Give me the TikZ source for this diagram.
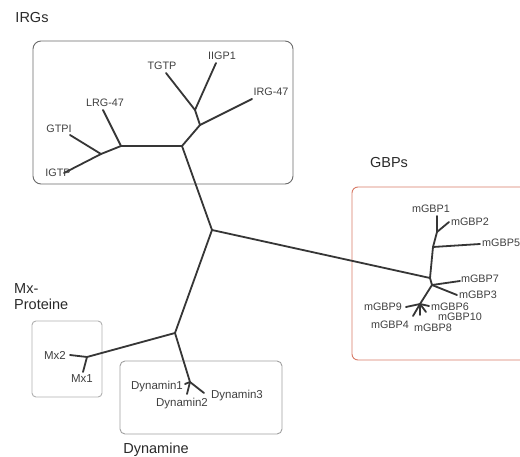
\documentclass[tikz,border=0pt]{standalone}
\usepackage{fontspec}
\setmainfont{Liberation Sans}
\definecolor{branchcol}{HTML}{363636}
\definecolor{txtcol}{HTML}{404040}
\definecolor{ttlcol}{HTML}{2A2A2A}
\definecolor{irgbox}{HTML}{6A6A6A}
\definecolor{gbpbox}{HTML}{D87A66}
\definecolor{mxbox}{HTML}{B0B0B0}
\definecolor{dynbox}{HTML}{A0A0A0}
\tikzset{
  branch/.style={draw=branchcol, line width=1.8pt, line cap=round, line join=round},
  grpbox/.style={line width=0.9pt},
  lbl/.style={inner sep=0pt, text=txtcol, font=\fontsize{10.8}{12}\selectfont},
  biglbl/.style={inner sep=0pt, text=txtcol, font=\fontsize{11.5}{13}\selectfont},
  ttl/.style={inner sep=0pt, text=ttlcol, font=\fontsize{14.5}{17}\selectfont},
}
\begin{document}
\begin{tikzpicture}[x=1pt,y=-1pt]
\clip (0,0) rectangle (520,457);
\fill[white] (0,0) rectangle (520,457);
% boxes
\draw[grpbox, draw=irgbox, rounded corners=8pt] (33,41) rectangle (293,184);
\draw[grpbox, draw=gbpbox, rounded corners=6pt] (352,187) rectangle (540,360);
\draw[grpbox, draw=mxbox, rounded corners=4pt] (32,321) rectangle (102,397);
\draw[grpbox, draw=dynbox, rounded corners=5pt] (120,361) rectangle (282,434);
% titles
\node[ttl] (tIRG) at (32,18) {IRGs};
\node[ttl] (tGBP) at (389,163) {GBPs};
\node[ttl, anchor=west, align=left] (tMx) at (14,297) {Mx-\\[-1pt]Proteine};
\node[ttl] (tDyn) at (156,450) {Dynamine};
% tree coordinates
\coordinate (r) at (212,230);
\coordinate (c1) at (182,146);
\coordinate (a) at (200,125);
\coordinate (b) at (195,110);
\coordinate (eTGTP) at (166,73);
\coordinate (eIIGP) at (216,63);
\coordinate (eIRG) at (252,99);
\coordinate (d) at (121,146);
\coordinate (eLRG) at (103,110);
\coordinate (e) at (101,154);
\coordinate (eGTPI) at (70,135);
\coordinate (eIGTP) at (64,173);
\coordinate (m) at (175,333);
\coordinate (g) at (430,278);
\coordinate (g5) at (433,247);
\coordinate (g2) at (437,232);
\coordinate (eG1) at (437,216);
\coordinate (eG2) at (449,222);
\coordinate (eG5) at (480,244);
\coordinate (g73) at (432,285);
\coordinate (eG7) at (460,281);
\coordinate (eG3) at (457,295);
\coordinate (gc) at (420,304);
\coordinate (eG9) at (406,307);
\coordinate (eG6) at (429,306);
\coordinate (eG10) at (426,312);
\coordinate (eG8) at (420,315);
\coordinate (eG4) at (413,316);
\coordinate (xj) at (87,357);
\coordinate (eMx2) at (70,355);
\coordinate (eMx1) at (83,372);
\coordinate (dj) at (190,382);
\coordinate (eD1) at (185,384);
\coordinate (eD2) at (187,394);
\coordinate (eD3) at (204,393);
% branches
\draw[branch] (r) -- (c1) -- (a) -- (b) -- (eTGTP);
\draw[branch] (b) -- (eIIGP);
\draw[branch] (a) -- (eIRG);
\draw[branch] (c1) -- (d) -- (eLRG);
\draw[branch] (d) -- (e) -- (eGTPI);
\draw[branch] (e) -- (eIGTP);
\draw[branch] (r) -- (g);
\draw[branch] (r) -- (m);
\draw[branch] (g) -- (g5) -- (g2) -- (eG1);
\draw[branch] (g2) -- (eG2);
\draw[branch] (g5) -- (eG5);
\draw[branch] (g) -- (g73) -- (eG7);
\draw[branch] (g73) -- (eG3);
\draw[branch] (g73) -- (gc) -- (eG9);
\draw[branch] (gc) -- (eG6);
\draw[branch] (gc) -- (eG10);
\draw[branch] (gc) -- (eG8);
\draw[branch] (gc) -- (eG4);
\draw[branch] (m) -- (xj) -- (eMx2);
\draw[branch] (xj) -- (eMx1);
\draw[branch] (m) -- (dj) -- (eD1);
\draw[branch] (dj) -- (eD2);
\draw[branch] (dj) -- (eD3);
% labels
\node[lbl] (lTGTP) at (162,66) {TGTP};
\node[lbl] (lIIGP) at (222,56) {IIGP1};
\node[lbl] (lIRG) at (271,92) {IRG-47};
\node[lbl] (lLRG) at (105,103) {LRG-47};
\node[lbl] (lGTPI) at (59,129) {GTPI};
\node[lbl] (lIGTP) at (58,173) {IGTP};
\node[lbl] (lG1) at (431,209) {mGBP1};
\node[lbl] (lG2) at (470,222) {mGBP2};
\node[lbl, anchor=west] (lG5) at (482,243) {mGBP5};
\node[lbl] (lG7) at (480,279) {mGBP7};
\node[lbl] (lG3) at (478,295) {mGBP3};
\node[lbl] (lG9) at (383,307) {mGBP9};
\node[lbl] (lG6) at (450,307) {mGBP6};
\node[lbl] (lG10) at (460,317) {mGBP10};
\node[lbl] (lG4) at (390,325) {mGBP4};
\node[lbl] (lG8) at (433,328) {mGBP8};
\node[biglbl] (lMx2) at (55,355) {Mx2};
\node[biglbl] (lMx1) at (82,379) {Mx1};
\node[biglbl] (lD1) at (157,387) {Dynamin1};
\node[biglbl] (lD2) at (182,404) {Dynamin2};
\node[biglbl] (lD3) at (237,396) {Dynamin3};
\end{tikzpicture}
\end{document}
